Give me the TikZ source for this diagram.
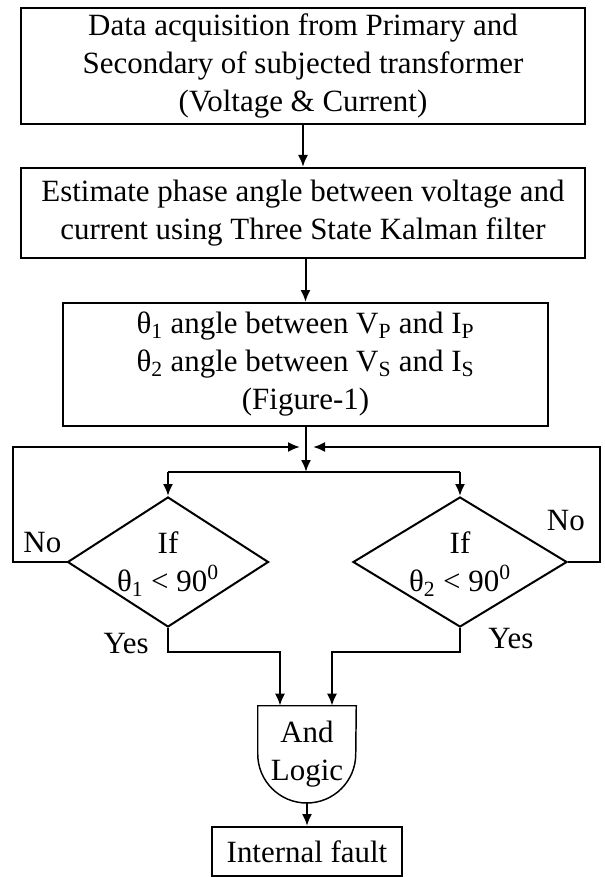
\documentclass[tikz,border=0pt]{standalone}
\usepackage{fontspec}
\setmainfont{Liberation Serif}
\usetikzlibrary{shapes,arrows.meta,positioning,calc}

\tikzset{
  box/.style={draw, rectangle, line width=1.5pt, align=center, inner sep=0pt},
  decision/.style={draw, diamond, line width=1.5pt, inner sep=0pt,
    minimum height=97.5pt},
  lbl/.style={inner sep=0pt},
  flow/.style={line width=1.5pt, -{Latex[length=9pt,width=7.5pt]}},
}

\begin{document}
\begin{tikzpicture}[x=0.75pt, y=-0.75pt, font=\fontsize{23.2}{28.5}\selectfont]
            \useasboundingbox (0,0) rectangle (604,877);
            \node[box, minimum width=423pt, minimum height=87pt] (acq) at (303,66)
              {Data acquisition from Primary and\\Secondary of subjected transformer\\(Voltage \& Current)};
            \node[box, minimum width=423pt, minimum height=67.5pt] (est) at (303,213)
              {Estimate phase angle between voltage and\\current using Three State Kalman filter};
            \node[box, minimum width=363.75pt, minimum height=92.25pt] (ang) at (305.5,364.5)
              {θ\textsubscript{1} angle between V\textsubscript{P} and I\textsubscript{P}\\
               θ\textsubscript{2} angle between V\textsubscript{S} and I\textsubscript{S}\\(Figure-1)};
            \draw[flow] (acq) -- (est);
            \draw[flow] (ang.north |- est.south) -- (ang.north);

            % the two checks
            \node[decision, minimum width=150.75pt] (chk1) at (168,562) {};
            \node[decision, minimum width=160.5pt] (chk2) at (460,562) {};
            \node[lbl, align=center] (chk1txt) at (168,564) {If\\θ\textsubscript{1} < 90\textsuperscript{0}};
            \node[lbl, align=center] (chk2txt) at (460,564) {If\\θ\textsubscript{2} < 90\textsuperscript{0}};

            \coordinate (join) at (306,447);
            \coordinate (split) at (306,472);
            \coordinate (lc) at (13,562);
            \coordinate (rc) at (600,562);
            \draw[flow] (ang.south -| split) -- (split);
            \draw[line width=1.5pt] (split -| chk1.north) -- (split -| chk2.north);
            \draw[flow] (split -| chk1.north) -- (chk1.north);
            \draw[flow] (split -| chk2.north) -- (chk2.north);

            % No: back to the top
            \draw[flow] (chk1.west) -- (lc) |- ($(join)+(-6,0)$);
            \draw[flow] (chk2.east) -- (rc) |- ($(join)+(7,0)$);
            \node[lbl, anchor=base east] (no1) at ($(chk1.west)+(-5,-10)$) {No};
            \node[lbl, anchor=base east] (no2) at ($(rc)+(-15,-32)$) {No};

            % Yes: into the and gate
            \node[minimum width=73.5pt, minimum height=72pt, align=center, inner sep=0pt] (andg) at (307,754) {And\\Logic};
            \draw[line width=1.1pt] (andg.north west) -- (andg.west)
              arc[start angle=180, end angle=360, radius=36.75pt] -- (andg.north east) -- cycle;
            \draw[flow] (chk1.south) -- ++(0,24) -| ($(andg.north)+(-27,0)$);
            \draw[flow] (chk2.south) -- ++(0,24) -| ($(andg.north)+(25,0)$);
            \node[lbl, anchor=base east] (yes1) at ($(chk1.south)+(-19,25)$) {Yes};
            \node[lbl, anchor=base west] (yes2) at ($(chk2.south)+(28,20)$) {Yes};

            \node[box, minimum width=142.5pt, minimum height=36.75pt] (fault) at (307,851.5) {Internal fault};
            \draw[flow] (andg.south) -- (fault.north);
        \end{tikzpicture}
\end{document}
